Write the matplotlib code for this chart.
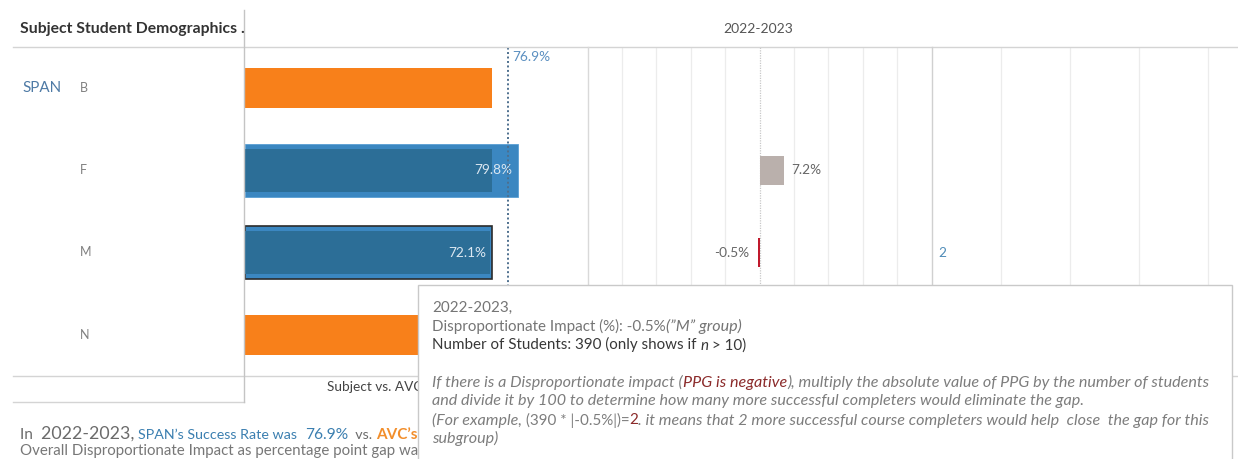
import numpy as np
import matplotlib
matplotlib.use("Agg")
import matplotlib.pyplot as plt
from matplotlib.patches import Rectangle
from matplotlib.lines import Line2D

plt.rcParams['font.family'] = ['Lato', 'DejaVu Sans']

W, H = 1238, 459

# Data
year = '2022-2023'
subject = 'SPAN'
groups = ['B', 'F', 'M', 'N']
avc_rate = [72.2, 72.3, 71.6, 74.0]          # college-wide success rate per group
span_rate = [np.nan, 79.8, 72.1, np.nan]     # subject success rate per group
span_overall = 76.9
di_gap = [np.nan, 7.2, -0.5, np.nan]         # disproportionate impact, pct points
selected_group = 'M'
selected_n = 390
students_to_close = [np.nan, np.nan, round(selected_n * 0.5 / 100), np.nan]

ORANGE = '#f8801a'
BLUE_OUT = '#3b87c1'
BLUE_IN = '#2c6e97'
GRID = '#ececec'
LINE = '#d4d4d4'

fig = plt.figure(figsize=(W / 100, H / 100), dpi=100)
renderer = fig.canvas.get_renderer()


def fx(x):
    return x / W


def fy(y):
    return 1 - y / H


def add_pane(x0, x1, y0=47, y1=376):
    ax = fig.add_axes([fx(x0), fy(y1), (x1 - x0) / W, (y1 - y0) / H])
    ax.set_ylim(len(groups) - 0.5, -0.5)
    ax.axis('off')
    return ax


def hline(y, x0, x1, color=LINE, lw=1.0, z=1):
    fig.add_artist(Line2D([fx(x0), fx(x1)], [fy(y), fy(y)], color=color, lw=lw, zorder=z))


def vline(x, y0, y1, color=LINE, lw=1.0, z=1, ls='-'):
    fig.add_artist(Line2D([fx(x), fx(x)], [fy(y0), fy(y1)], color=color, lw=lw, zorder=z, ls=ls))


def text_width(s, kw):
    a = fig.text(0, 0, s + '|', **kw)
    b = fig.text(0, 0, '|', **kw)
    w = a.get_window_extent(renderer).width - b.get_window_extent(renderer).width
    a.remove()
    b.remove()
    return w


def run_text(x, y, runs, z=3):
    for s, kw in runs:
        fig.text(fx(x), fy(y), s, va='baseline', ha='left', zorder=z, **kw)
        x += text_width(s, kw)


# Success rate pane (0-100%)
ax_rate = add_pane(244.5, 587.5)
ax_rate.set_xlim(0, 100)
for i, g in enumerate(groups):
    if np.isnan(span_rate[i]):
        ax_rate.barh(i, avc_rate[i], height=0.49, color=ORANGE, zorder=2)
    else:
        edge = '#2b2b2b' if g == selected_group else '#5a9fd4'
        ax_rate.barh(i, span_rate[i], height=0.64, color=BLUE_OUT, edgecolor=edge,
                     linewidth=1.2 if g == selected_group else 0.6, zorder=2)
        ax_rate.barh(i, min(avc_rate[i], span_rate[i] - 0.4), height=0.52,
                     color=BLUE_IN, zorder=3)
        ax_rate.annotate(f'{span_rate[i]:.1f}%', (span_rate[i], i), xytext=(-4, 0),
                         textcoords='offset points', ha='right', va='center',
                         color='#dbe7f1', fontsize=9.8, zorder=4)
ax_rate.axvline(span_overall, color='#4d6f8e', lw=1.4, ls=(0, (1, 1.3)), zorder=5)
ax_rate.annotate(f'{span_overall}%', (span_overall, -0.5), xytext=(3, -3),
                 textcoords='offset points', ha='left', va='top',
                 color='#5b8fc0', fontsize=9.8)

# Disproportionate impact pane (-50..50)
ax_di = add_pane(587.5, 931.5)
ax_di.set_xlim(-50, 50)
for v in range(-40, 50, 10):
    if v != 0:
        ax_di.axvline(v, color=GRID, lw=0.9, zorder=0)
ax_di.axvline(0, color='#c8c8c8', lw=0.9, ls=(0, (1, 1)), zorder=0)
for i, v in enumerate(di_gap):
    if np.isnan(v):
        continue
    col = '#bab0ac' if v >= 0 else '#c0192c'
    ax_di.barh(i, v, height=0.35, color=col, zorder=2)
    if v >= 0:
        ax_di.annotate(f'{v:.1f}%', (v, i), xytext=(5, 0), textcoords='offset points',
                       ha='left', va='center', color='#666666', fontsize=9.8)
    else:
        ax_di.annotate(f'{v:.1f}%', (v, i), xytext=(-6, 0), textcoords='offset points',
                       ha='right', va='center', color='#666666', fontsize=9.8)

# Students needed to close the gap
ax_n = add_pane(931.5, 1238)
ax_n.set_xlim(0, (1238 - 931.5) / 69)
for v in range(1, 5):
    ax_n.axvline(v, color=GRID, lw=0.9, zorder=0)
for i, v in enumerate(students_to_close):
    if not np.isnan(v):
        ax_n.annotate(f'{int(v)}', (0, i), xytext=(5, 0), textcoords='offset points',
                      ha='left', va='center', color='#4f8cb8', fontsize=9.8)

# Frame lines
hline(47, 13, 1238)
hline(376, 13, 1238)
hline(402, 13, 244)
vline(244, 10, 402, color='#c4c4c4')
vline(587.5, 47, 376, color='#d9d9d9')
vline(931.5, 47, 376, color='#d0d0d0')

# Header and row labels
fig.text(fx(20), fy(29), 'Subject Student Demographics .', fontweight='bold',
         fontsize=11.3, color='#333333', va='center')
fig.text(fx(758), fy(29), year, fontsize=10, color='#555555', va='center', ha='center')
fig.text(fx(22), fy(88), subject, fontsize=10.9, color='#4e7aa5', va='center')
for i, g in enumerate(groups):
    fig.text(fx(80), fy(88 + 82.25 * i), g, fontsize=9, color='#808080', va='center')

fig.text(fx(416), fy(387), 'Subject vs. AVC Success Rate', fontsize=9.8,
         color='#444444', va='center', ha='center')

# Summary lines
gray = dict(color='#6b6b6b')
run_text(20, 439, [
    ('In  ', dict(fontsize=11, **gray)),
    (f'{year}, ', dict(fontsize=12.8, **gray)),
    (f'{subject}\u2019s Success Rate was  ', dict(fontsize=10.3, color='#3b7fb0')),
    (f'{span_overall}%', dict(fontsize=11.2, color='#3b7fb0')),
    ('  vs. ', dict(fontsize=10.3, **gray)),
    ('AVC\u2019s', dict(fontsize=11, color='#f28e2b', fontweight='bold')),
])
run_text(20, 455, [
    ('Overall Disproportionate Impact as percentage point gap was', dict(fontsize=10.8, color='#777777')),
])

# Tooltip
fig.add_artist(Rectangle((fx(418), fy(470)), (1232 - 418) / W, (470 - 285) / H,
                         facecolor='white', edgecolor='#c9c9c9', lw=1.0, zorder=10,
                         transform=fig.transFigure))
tx = 432
ufs = 10.9
ifs = 11.6
tg = '#757575'
red = '#8b2a2a'
it = dict(fontsize=ifs, color='#7d7d7d', style='italic')
up = dict(fontsize=ufs, color='#7d7d7d')
sel = groups.index(selected_group)
run_text(tx, 312, [(f'{year},', dict(fontsize=ufs, color=tg))], z=11)
run_text(tx, 331, [
    (f'Disproportionate Impact (%): {di_gap[sel]:.1f}%', dict(fontsize=ufs, color=tg)),
    (f'(\u201d{selected_group}\u201d group)', dict(fontsize=ifs, color=tg, style='italic')),
], z=11)
run_text(tx, 349.5, [
    (f'Number of Students: {selected_n} (only shows if ', dict(fontsize=ufs, color='#383838')),
    ('n', dict(fontsize=ufs, color='#383838', style='italic')),
    (' > 10)', dict(fontsize=ufs, color='#383838')),
], z=11)
run_text(tx, 386.5, [
    ('If there is a Disproportionate impact (', it),
    ('PPG is negative', dict(fontsize=ifs, color=red, style='italic')),
    ('), multiply the absolute value of PPG by the number of students', it),
], z=11)
run_text(tx, 405.5, [
    ('and divide it by 100 to determine how many more successful completers would eliminate the gap.', it),
], z=11)
run_text(tx, 424.5, [
    ('(For example, ', it),
    (f'({selected_n} * |{di_gap[sel]:.1f}%|)=', up),
    (f'{int(students_to_close[sel])}', dict(fontsize=ufs, color=red)),
    (f'. it means that {int(students_to_close[sel])} more successful course completers would help  close  the gap for this', it),
], z=11)
run_text(tx, 442.5, [('subgroup)', it)], z=11)

fig.savefig('out.png', dpi=100)
